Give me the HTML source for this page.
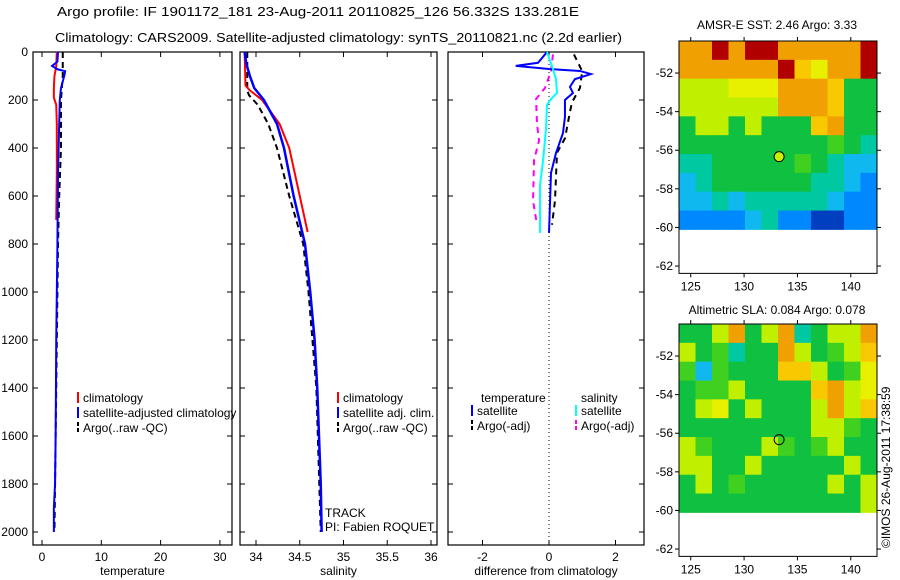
<!DOCTYPE html>
<html><head><meta charset="utf-8"><style>
body{margin:0;background:#fff}
svg{display:block;font-family:"Liberation Sans",sans-serif}
text{fill:#000}
</style></head><body>
<svg id="c" width="900" height="580" viewBox="0 0 900 580">
<text x="57" y="16" font-size="13" textLength="522" lengthAdjust="spacingAndGlyphs">Argo profile: IF 1901172_181 23-Aug-2011 20110825_126 56.332S 133.281E</text>
<text x="55" y="42" font-size="13" textLength="567" lengthAdjust="spacingAndGlyphs">Climatology: CARS2009. Satellite-adjusted climatology: synTS_20110821.nc (2.2d earlier)</text>
<text x="777" y="29" font-size="12" text-anchor="middle">AMSR-E SST: 2.46 Argo: 3.33</text>
<text x="777" y="314" font-size="12" text-anchor="middle">Altimetric SLA: 0.084 Argo: 0.078</text>
<text transform="translate(890,548) rotate(-90)" font-size="12">©IMOS 26-Aug-2011 17:38:59</text>
<g id="g"></g>
</svg>
<script>
// ---- profile data ----
const tDepth=[0,40,58,72,80,95,150,200,300,500,800,1200,1600,1800,1900,2000];
const tSat=[2.7,2.6,1.7,2.6,3.9,3.8,3.2,3.0,2.9,2.7,2.6,2.4,2.3,2.2,2.0,2.0];
const tClimDepth=[0,60,100,150,190,220,300,500,700];
const tClim=[2.5,2.4,2.1,2.0,2.0,2.4,2.5,2.5,2.4];
const tArgoDepth=[0,100,200,400,600,800,1200,1600,2000];
const tArgo=[3.5,3.5,3.2,3.2,2.9,2.7,2.5,2.3,2.1];
const sDepth=[0,50,100,150,200,300,400,600,800,1000,1200,1400,1600,1800,2000];
const sSat=[33.87,33.89,33.93,33.98,34.09,34.24,34.32,34.43,34.56,34.62,34.67,34.70,34.72,34.74,34.75];
const sClimDepth=[0,140,160,200,300,400,500,600,750];
const sClim=[33.87,33.88,33.93,34.07,34.27,34.38,34.44,34.50,34.59];
const sArgoDepth=[0,160,180,220,300,400,600,800,1000,1400,2000];
const sArgo=[33.90,33.90,33.92,34.02,34.14,34.24,34.38,34.54,34.60,34.69,34.74];
const dTDepth=[0,45,58,71,79,92,113,145,171,200,271,338,421,504,754];
const dTSat=[-0.06,-0.33,-1.0,0,0.93,1.26,0.78,0.63,0.72,0.48,0.48,0.42,0.21,0.06,0];
const dSDepth=[0,71,113,171,196,221,321,454,554,754];
const dSSat=[-0.06,0.12,0.21,0.24,0.06,-0.06,-0.09,-0.18,-0.27,-0.27];
const dSArgoDepth=[10,80,150,196,300,370,450,620,720];
const dSArgo=[0.12,0.06,-0.12,-0.39,-0.36,-0.3,-0.45,-0.48,-0.36];
const dTArgoDepth=[10,80,150,210,250,360,420,620,720];
const dTArgo=[0.75,1.0,0.93,0.69,0.63,0.48,0.24,0.18,0.09];
// ---- map data ----
const mapLatTicks=[-52,-54,-56,-58,-60,-62];
const mapLonTicks=[125,130,135,140];
const sstRows=["OORORROOOOOR","OOOOOORoYOOR","yyyYYYOOOoGG","yyyyyyOOOoGG","GyyGyGGGoOGG","GGGGGGGGGgGT","TTGGGGGgGTCC","CTGGGGGGTTCB","CCTCTTTTTCBB","BBBBCTBBDDBB"];
const slaRows=["GGyOGyOTGyyO","yGgTGGOyGgyo","gCgGGGooyGgY","GggyGGGGoOyY","GyYGyGGGyOyo","GGGGGGGGyygG","ygGGGygGgyGG","yyGGyGGGGGyG","GyGgGGGGGyGy","GGGGGGGGGGGy"];
const floatLon=133.281, floatLat=-56.332;
const pal={R:"#b00000",O:"#f0a000",o:"#f8c800",Y:"#e8f000",y:"#c0f000",G:"#10c040",g:"#40d020",T:"#00c8a0",C:"#10b8f0",B:"#0088ff",D:"#0040c0"};

const NS="http://www.w3.org/2000/svg", G=document.getElementById('g');
function el(t,a){const e=document.createElementNS(NS,t);for(const k in a)e.setAttribute(k,a[k]);G.appendChild(e);return e;}
const yD=d=>52+d*0.24;
function panel(x0,x1,xs,ticks,labels,ylab,title,name){
  const b=el('rect',{x:x0,y:52,width:x1-x0,height:493,fill:'none',stroke:'#000','stroke-width':1.2});
  
  
  ticks.forEach((v,i)=>{const x=xs(v);
    el('line',{x1:x,x2:x,y1:52,y2:57,stroke:'#000'});el('line',{x1:x,x2:x,y1:545,y2:540,stroke:'#000'});
    const t=el('text',{x:x,y:561,'font-size':12,'text-anchor':'middle'});t.textContent=labels[i];
    
    });
  for(let d=0;d<=2000;d+=200){const y=yD(d);
    el('line',{x1:x0,x2:x0+5,y1:y,y2:y,stroke:'#000'});el('line',{x1:x1,x2:x1-5,y1:y,y2:y,stroke:'#000'});
    if(ylab){const t=el('text',{x:x0-5,y:y+4,'font-size':12,'text-anchor':'end'});t.textContent=d;
      
      }}
  const tt=el('text',{x:(x0+x1)/2,y:575,'font-size':12,'text-anchor':'middle'});tt.textContent=title;
  
  
}
function line(xs,dep,val,col,w,dash,name){
  const p=el('polyline',{points:dep.map((d,i)=>xs(val[i])+','+yD(d)).join(' '),fill:'none',stroke:col,'stroke-width':w});
  if(dash)p.setAttribute('stroke-dasharray',dash);
  
  
}
function leg(x,y,col,dash,txt){
  const l=el('line',{x1:x,x2:x,y1:y-10,y2:y+1,stroke:col,'stroke-width':2});
  if(dash)l.setAttribute('stroke-dasharray','4,2');
  const t=el('text',{x:x+5,y:y,'font-size':12});t.textContent=txt;
  
  
}
// panel 1
const xT=v=>42+5.93*v;
panel(33,232,xT,[0,10,20,30],['0','10','20','30'],true,'temperature','temperature');
line(xT,tArgoDepth,tArgo,'#000',2,'6,4','temp-argo-line');
line(xT,tClimDepth,tClim,'#f00',2,null,'temp-climatology-line');
line(xT,tDepth,tSat,'#00f',2,null,'temp-satellite-line');
leg(78,402,'#f00',0,'climatology');leg(78,417,'#00f',0,'satellite-adjusted climatology');leg(78,432,'#000',1,'Argo(..raw -QC)');
// panel 2
const xS=v=>256+(v-34)*87.5;
panel(240,437,xS,[34,34.5,35,35.5,36],['34','34.5','35','35.5','36'],false,'salinity','salinity');
line(xS,sArgoDepth,sArgo,'#000',2,'6,4','sal-argo-line');
line(xS,sClimDepth,sClim,'#f00',2,null,'sal-climatology-line');
line(xS,sDepth,sSat,'#00f',2.5,null,'sal-satellite-line');
leg(338,402,'#f00',0,'climatology');leg(338,417,'#00f',0,'satellite adj. clim.');leg(338,432,'#000',1,'Argo(..raw -QC)');
const tr=el('text',{x:325,y:517,'font-size':12});tr.textContent='TRACK';


const pi=el('text',{x:325,y:531,'font-size':12});pi.textContent='PI: Fabien ROQUET';


// panel 3
const xD=v=>549+33.25*v;
panel(448,644,xD,[-2,0,2],['-2','0','2'],false,'difference from climatology','difference');
el('line',{x1:549,x2:549,y1:52,y2:545,stroke:'#000','stroke-dasharray':'1,3'});
line(xD,dTArgoDepth,dTArgo,'#000',2,'6,5','diff-temp-argo-line');
line(xD,dSArgoDepth,dSArgo,'#f0f',2,'6,5','diff-sal-argo-line');
line(xD,dTDepth,dTSat,'#00f',2,null,'diff-temp-satellite-line');
line(xD,dSDepth,dSSat,'#0ff',2,null,'diff-sal-satellite-line');
const lt=el('text',{x:481,y:402,'font-size':12});lt.textContent='temperature';


const ls=el('text',{x:581,y:402,'font-size':12});ls.textContent='salinity';


leg(472,415,'#00f',0,'satellite');leg(472,430,'#000',1,'Argo(-adj)');
leg(576,415,'#0ff',0,'satellite');leg(576,430,'#f0f',1,'Argo(-adj)');
// maps
function map(top,rows,name){
  const x0=679,x1=877,lon0=123.9,lat0=-50.34,px=10.67,py=19.3;
  const lx=v=>x0+(v-lon0)*px, ly=v=>top+(lat0-v)*py;
  const dataBottom=ly(-60.1), cw=(x1-x0)/rows[0].length, ch=(dataBottom-top)/rows.length;
  rows.forEach((r,i)=>[...r].forEach((c,j)=>{
    const q=el('rect',{x:x0+j*cw,y:top+i*ch,width:cw+0.5,height:ch+0.5,fill:pal[c]});
    
    }));
  const bottom=ly(-62.38);
  const b=el('rect',{x:x0,y:top,width:x1-x0,height:bottom-top,fill:'none',stroke:'#000'});
  
  
  mapLatTicks.forEach(v=>{const y=ly(v);
    el('line',{x1:x0-4,x2:x0,y1:y,y2:y,stroke:'#000'});el('line',{x1:x1,x2:x1+4,y1:y,y2:y,stroke:'#000'});
    const t=el('text',{x:x0-6,y:y+4,'font-size':12,'text-anchor':'end'});t.textContent=v;
    
    });
  mapLonTicks.forEach(v=>{const x=lx(v);
    el('line',{x1:x,x2:x,y1:top-4,y2:top,stroke:'#000'});el('line',{x1:x,x2:x,y1:bottom,y2:bottom+4,stroke:'#000'});
    const t=el('text',{x:x,y:bottom+17,'font-size':12,'text-anchor':'middle'});t.textContent=v;
    
    });
  const m=el('circle',{cx:lx(floatLon),cy:ly(floatLat),r:5,fill:name=='sst-map'?'#c8f000':'none',stroke:'#000'});
  
  
}
map(41,sstRows,'sst-map');
map(324,slaRows,'sla-map');
</script>
</body></html>
